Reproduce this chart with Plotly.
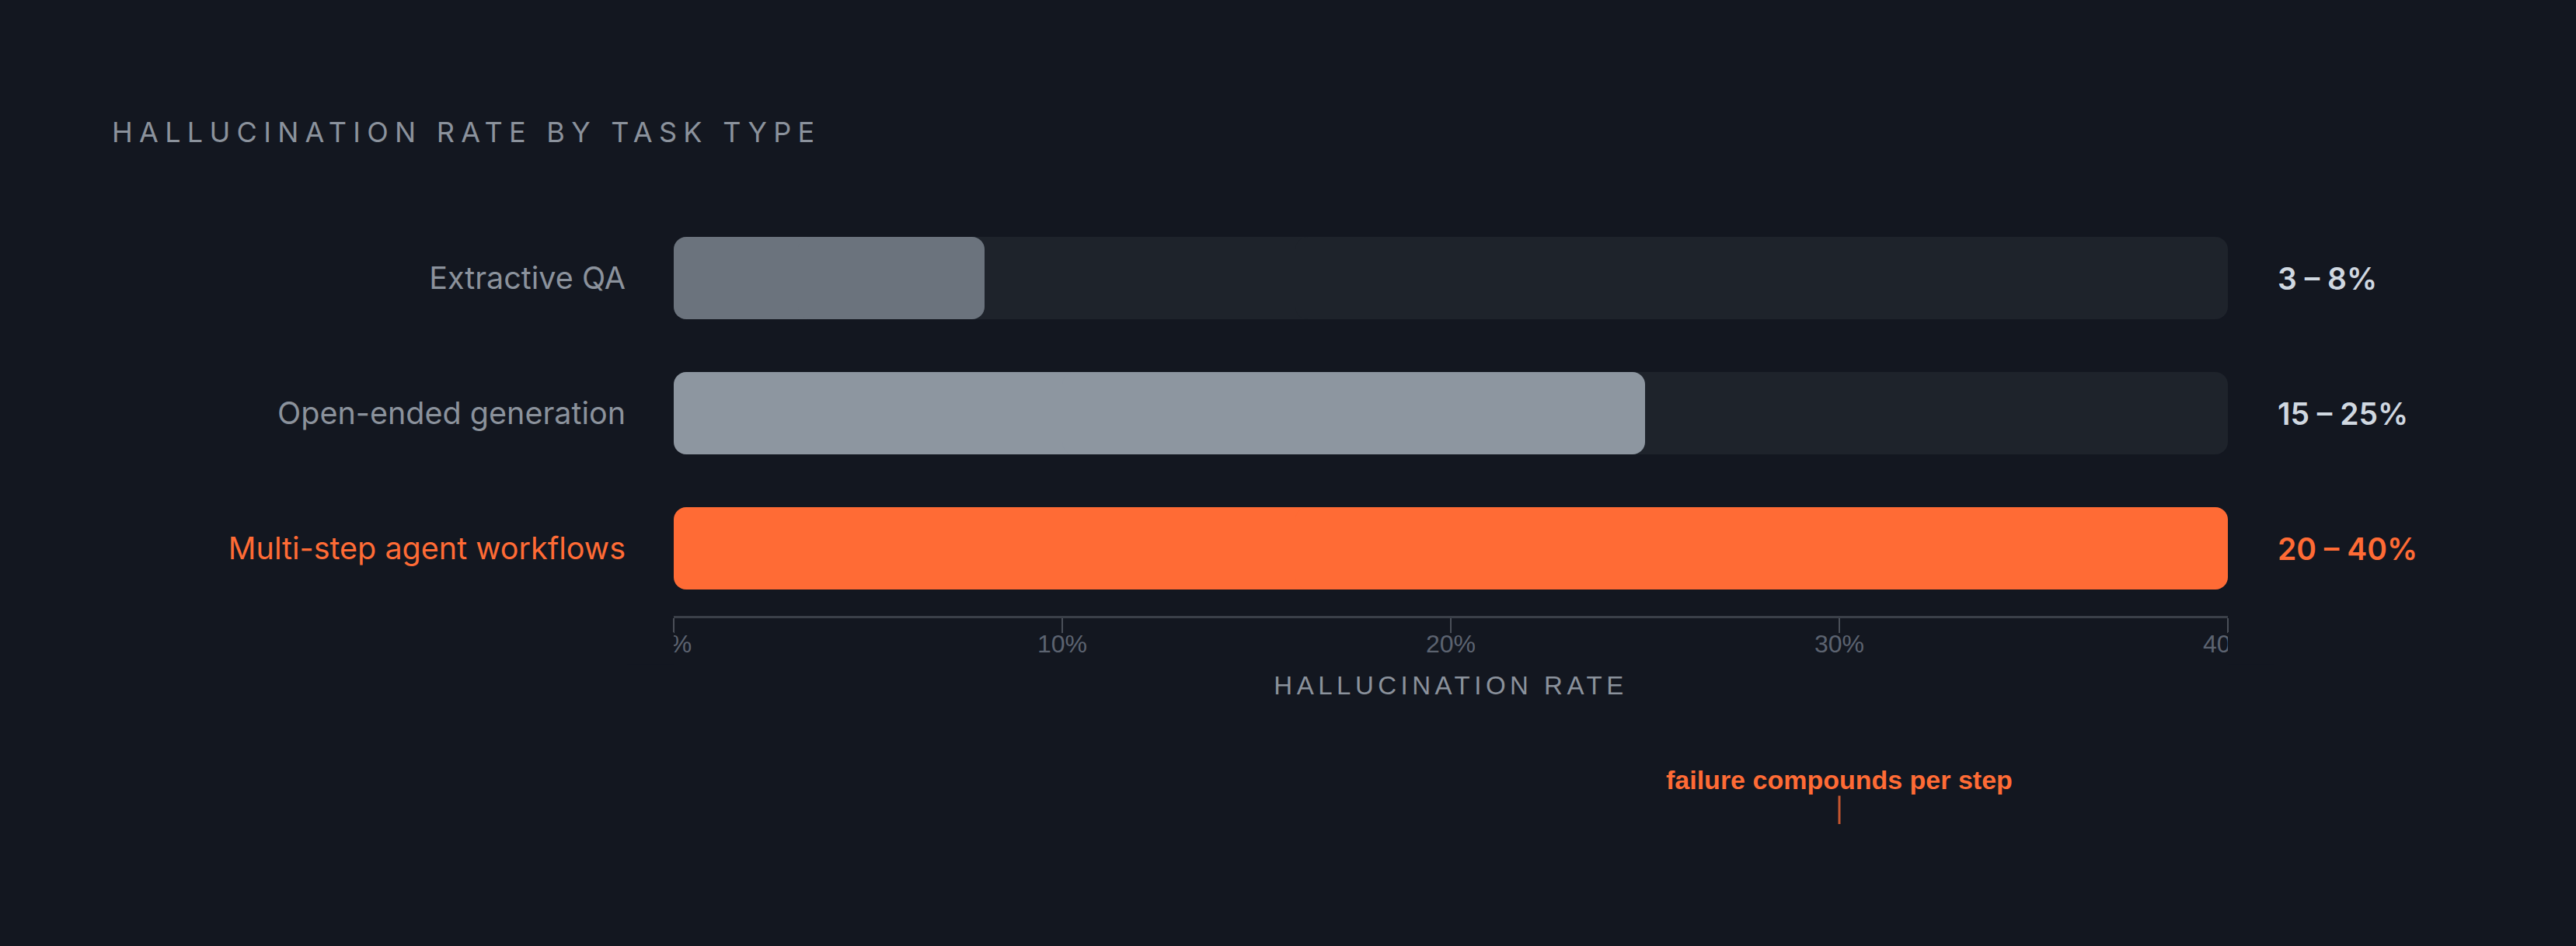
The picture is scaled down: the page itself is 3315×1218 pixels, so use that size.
import plotly.graph_objects as go

# Data
categories = ["Extractive QA", "Open-ended generation", "Multi-step agent workflows"]
rate_low = [3, 15, 20]
rate_high = [8, 25, 40]
scale_max = 40
bar_colors = ["#6b737d", "#8d96a0", "#ff6b35"]
label_colors = ["#d0d8e0", "#d0d8e0", "#ff6b35"]
x_tickvals = [0, 10, 20, 30, 40]
x_ticktext = ["0%", "10%", "20%", "30%", "40%"]

BG = "#131720"
TRACK = "#1e232b"
MUTED = "#8b929c"
ORANGE = "#ff6b35"
BAR_W = 106 / 174   # keeps bar edges on whole pixels
RADIUS = 16

fig = go.Figure()


def rounded_bar(values, colors, hover=False):
    # plotly only rounds the tip of a bar, so each bar is drawn as two
    # overlapping pieces: one growing left (rounded left end), one growing right
    left_end = [v * 0.6 for v in values]
    right_start = [v * 0.4 for v in values]
    fig.add_trace(go.Bar(
        y=categories, x=[-v for v in left_end], base=left_end, orientation="h",
        marker=dict(color=colors, line=dict(width=0), cornerradius=RADIUS, opacity=1),
        width=BAR_W, hoverinfo="skip", showlegend=False,
    ))
    fig.add_trace(go.Bar(
        y=categories, x=[v - s for v, s in zip(values, right_start)],
        base=right_start, orientation="h",
        marker=dict(color=colors, line=dict(width=0), cornerradius=RADIUS, opacity=1),
        width=BAR_W, showlegend=False,
        hoverinfo="skip" if not hover else None,
        customdata=list(zip(rate_low, rate_high)) if hover else None,
        hovertemplate="%{y}: %{customdata[0]}–%{customdata[1]}%<extra></extra>" if hover else None,
    ))


# background track (full scale), then the rate bars (upper end of the range)
rounded_bar([scale_max] * len(categories), TRACK)
rounded_bar(rate_high, bar_colors, hover=True)

# range labels right of the bars
for cat, lo, hi, col in zip(categories, rate_low, rate_high, label_colors):
    fig.add_annotation(
        x=scale_max, y=cat, xref="x", yref="y",
        text=f"{lo} – {hi}%", showarrow=False,
        xanchor="left", xshift=62,
        font=dict(family="Inter", size=39, color=col, weight=600),
    )

# callout under the axis
fig.add_annotation(
    x=30, y=-0.5134, xref="x", yref="paper",
    text="<b>failure compounds per step</b>",
    showarrow=True, arrowhead=0, arrowwidth=3,
    arrowcolor="rgba(255,107,53,0.75)", ax=0, ay=-57,
    font=dict(family="Liberation Sans, Arial", size=34, color=ORANGE),
)

ytext = [
    c if i < 2 else f"<span style='color:{ORANGE}'>{c}</span>"
    for i, c in enumerate(categories)
]

fig.update_yaxes(
    type="category", categoryorder="array", categoryarray=categories,
    autorange="reversed", tickvals=categories, ticktext=ytext,
    showgrid=False, zeroline=False, showline=False, ticks="",
    ticklabelstandoff=61,
    tickfont=dict(family="Inter", size=39.5, color=MUTED),
)

fig.update_xaxes(
    range=[0, scale_max], tickvals=x_tickvals, ticktext=x_ticktext,
    showgrid=False, zeroline=False,
    showline=True, linecolor="#3b4049", linewidth=3,
    ticks="outside", ticklen=19, tickwidth=2, tickcolor="#4a4f58",
    ticklabelstandoff=-13,
    tickfont=dict(family="Liberation Sans, Arial", size=32, color="#5c6370"),
    title=dict(
        text="<span style='letter-spacing:5.5px'>HALLUCINATION RATE</span>",
        font=dict(family="Liberation Sans, Arial", size=33, color=MUTED),
        standoff=25,
    ),
)

# end tick labels are clipped at the plot edges in the reference
for x0, x1 in [(-0.03, 0), (1, 1.03)]:
    fig.add_shape(
        type="rect", xref="paper", yref="paper",
        x0=x0, x1=x1, y0=-0.12, y1=-0.04,
        fillcolor=BG, line=dict(width=0), layer="above",
    )

fig.update_layout(
    width=3315, height=1218,
    paper_bgcolor=BG, plot_bgcolor=BG,
    barmode="overlay",
    margin=dict(l=867, r=448, t=271, b=425),
    title=dict(
        text="<span style='letter-spacing:8.3px'>HALLUCINATION RATE BY TASK TYPE</span>",
        xref="container", yref="container",
        x=144 / 3315, xanchor="left", y=1 - 170 / 1218, yanchor="middle",
        font=dict(family="Inter", size=36, color=MUTED),
    ),
)

fig.write_html(
    "out.html",
    config={"displayModeBar": False},
    post_script="document.body.style.margin='0';",
)
